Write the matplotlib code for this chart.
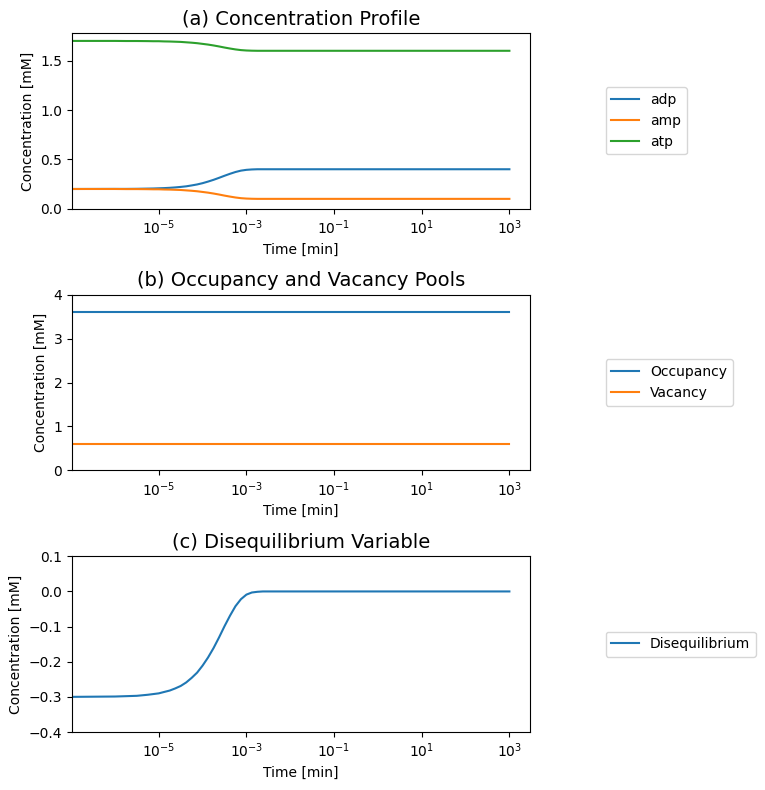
import matplotlib
matplotlib.use('Agg')
import matplotlib.pyplot as plt

# time points [min] and values
time = [1e-7, 1e-6, 1.78e-6, 3.16e-6, 5.62e-6, 7.5e-6,
        1e-5, 1.33e-5, 1.78e-5, 2.37e-5, 3.16e-5, 4.22e-5, 5.62e-5, 7.5e-5,
        1e-4, 1.33e-4, 1.78e-4, 2.37e-4, 3.16e-4, 4.22e-4, 5.62e-4, 7.5e-4,
        1e-3, 1.33e-3, 1.78e-3, 2.37e-3, 3.16e-3,
        1e-2, 1e-1, 1, 10, 100, 1000]

adp = [0.200, 0.201, 0.201, 0.202, 0.204, 0.205,
       0.207, 0.209, 0.212, 0.216, 0.221, 0.227, 0.236, 0.246,
       0.259, 0.275, 0.293, 0.313, 0.334, 0.354, 0.372, 0.386,
       0.394, 0.398, 0.400, 0.400, 0.400,
       0.400, 0.400, 0.400, 0.400, 0.400, 0.400]
amp = [0.200, 0.200, 0.199, 0.199, 0.198, 0.197,
       0.197, 0.195, 0.194, 0.192, 0.190, 0.186, 0.182, 0.177,
       0.170, 0.163, 0.154, 0.144, 0.133, 0.123, 0.114, 0.107,
       0.103, 0.101, 0.100, 0.100, 0.100,
       0.100, 0.100, 0.100, 0.100, 0.100, 0.100]
atp = [1.700, 1.700, 1.699, 1.699, 1.698, 1.697,
       1.697, 1.695, 1.694, 1.692, 1.690, 1.686, 1.682, 1.677,
       1.670, 1.663, 1.654, 1.644, 1.633, 1.623, 1.614, 1.607,
       1.603, 1.601, 1.600, 1.600, 1.600,
       1.600, 1.600, 1.600, 1.600, 1.600, 1.600]

occupancy = [3.6] * len(time)
vacancy = [0.6] * len(time)

diseq = [-0.300, -0.299, -0.298, -0.297, -0.294, -0.292,
         -0.290, -0.286, -0.282, -0.276, -0.269, -0.259, -0.246, -0.231,
         -0.211, -0.188, -0.161, -0.131, -0.099, -0.069, -0.042, -0.022,
         -0.009, -0.003, -0.001, 0.000, 0.000,
         0.000, 0.000, 0.000, 0.000, 0.000, 0.000]

fig, axes = plt.subplots(3, 1, figsize=(7.65, 7.9), dpi=100)
fig.subplots_adjust(left=0.0941, right=0.6928, top=0.9582, bottom=0.0734, hspace=0.489)

ax = axes[0]
ax.plot(time, adp, label='adp')
ax.plot(time, amp, label='amp')
ax.plot(time, atp, label='atp')
ax.set_ylim(0, 1.78)
ax.set_title('(a) Concentration Profile', fontsize=14)

ax = axes[1]
ax.plot(time, occupancy, label='Occupancy')
ax.plot(time, vacancy, label='Vacancy')
ax.set_ylim(0, 4)
ax.set_title('(b) Occupancy and Vacancy Pools', fontsize=14)

ax = axes[2]
ax.plot(time, diseq, label='Disequilibrium')
ax.set_ylim(-0.4, 0.1)
ax.set_title('(c) Disequilibrium Variable', fontsize=14)

for ax in axes:
    ax.set_xscale('log')
    ax.set_xlim(10**-6.98, 10**3.47)
    ax.set_xlabel('Time [min]')
    ax.set_ylabel('Concentration [mM]')
    ax.legend(loc='center left', bbox_to_anchor=(1.15, 0.5))

fig.savefig('out.png')
plt.close(fig)
